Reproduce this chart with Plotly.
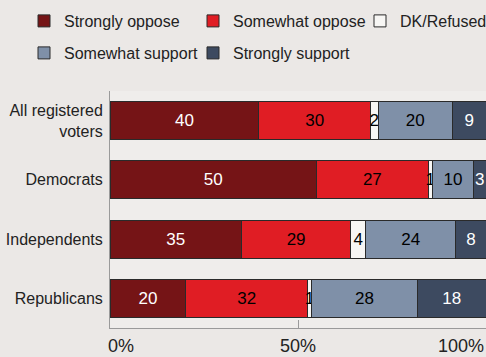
import plotly.graph_objects as go

categories = ["All registered<br>voters", "Democrats", "Independents", "Republicans"]
series_names = ["Strongly oppose", "Somewhat oppose", "DK/Refused", "Somewhat support", "Strongly support"]
strongly_oppose = [40, 50, 35, 20]
somewhat_oppose = [30, 27, 29, 32]
dk_refused = [2, 1, 4, 1]
somewhat_support = [20, 10, 24, 28]
strongly_support = [9, 3, 8, 18]
tick_labels = ["0%", "50%", "100%"]
tick_values = [0, 50, 100]

series_values = [strongly_oppose, somewhat_oppose, dk_refused, somewhat_support, strongly_support]
colors = ["#751416", "#e01d24", "#f7f6f4", "#7f90a8", "#3d4a60"]
text_colors = ["white", "black", "black", "black", "white"]
legend_ids = ["legend", "legend2", "legend3", "legend4", "legend5"]
# legend item placement (left px, center-y px from top)
legend_pos = [(24, 21), (193, 21), (360, 21), (24, 53), (193, 53)]

FONT = "Liberation Sans, Arial, sans-serif"
W, H = 486, 357

fig = go.Figure()
for name, vals, col, tcol, lg in zip(series_names, series_values, colors, text_colors, legend_ids):
    fig.add_trace(go.Bar(
        y=categories, x=vals, name=name, orientation="h",
        marker=dict(color=col, line=dict(color="#2a2a2a", width=1)),
        text=[str(v) for v in vals], textposition="inside", insidetextanchor="middle",
        constraintext="none", textangle=0,
        textfont=dict(color=tcol, size=17, family=FONT),
        legend=lg, hoverinfo="skip",
    ))

annotations = []
anchors = ["left", "center", "right"]
shifts = [-4, 0, 0]
for lab, val, anc, sh in zip(tick_labels, tick_values, anchors, shifts):
    annotations.append(dict(
        x=val, xref="x", y=0, yref="paper", yanchor="top", yshift=-6,
        xanchor=anc, xshift=sh, text=lab, showarrow=False,
        font=dict(size=18, color="#222", family=FONT),
    ))

legends = {}
for lg, (lx, ly) in zip(legend_ids, legend_pos):
    legends[lg] = dict(
        orientation="h", x=lx / W, y=(H - ly) / H,
        xref="container", yref="container", xanchor="left", yanchor="middle",
        font=dict(size=16, color="#222", family=FONT),
        bgcolor="rgba(0,0,0,0)", borderwidth=0,
        itemclick=False, itemdoubleclick=False,
    )

fig.update_layout(
    width=W, height=H,
    margin=dict(l=110, r=0, t=91, b=29),
    paper_bgcolor="#ebe8e6", plot_bgcolor="#efedeb",
    barmode="stack", barnorm="percent", bargap=0.36,
    showlegend=True,
    xaxis=dict(range=[0, 100], showgrid=False, zeroline=False,
               showline=True, linecolor="#9a9a9a", linewidth=1,
               tickvals=tick_values, ticks="inside", ticklen=8, tickcolor="#9a9a9a",
               showticklabels=False, fixedrange=True),
    yaxis=dict(autorange="reversed", showgrid=False, zeroline=False,
               showline=True, linecolor="#9a9a9a", linewidth=1,
               ticks="", ticklabelstandoff=3,
               tickfont=dict(size=16, color="#222", family=FONT), fixedrange=True),
    annotations=annotations,
    font=dict(family=FONT),
    **legends,
)

fig.write_html("out.html", config={"displayModeBar": False},
               post_script="document.body.style.margin='0';document.body.style.overflow='hidden';")
